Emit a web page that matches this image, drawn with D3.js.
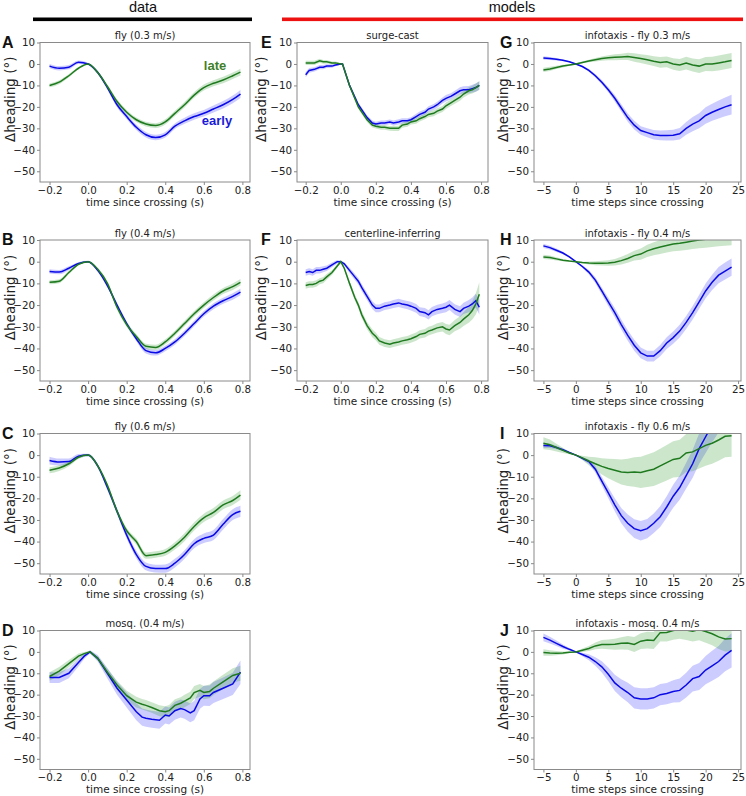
<!DOCTYPE html>
<html><head><meta charset="utf-8">
<script src="https://cdn.jsdelivr.net/npm/d3@7"></script>
<style>body{margin:0;background:#fff}svg{display:block}</style>
</head><body>
<svg id="c" width="746" height="796"></svg>
<script>
// ---------------- DATA ----------------
const yTicks = [-50, -40, -30, -20, -10, 0, 10];
const timeTicks = [-0.2, 0.0, 0.2, 0.4, 0.6, 0.8];
const stepTicks = [-5, 0, 5, 10, 15, 20, 25];

// time since crossing (s) for smooth fly panels
const timeS = [-0.2,-0.15,-0.1,-0.05,0,0.05,0.1,0.15,0.2,0.25,0.3,0.35,0.4,0.45,0.5,0.55,0.6,0.65,0.7,0.75,0.79];

const A_early = [-1,-2,-1.5,0.8,0,-4,-11,-19,-24.5,-29.5,-33,-34.3,-33,-29,-26.5,-24.5,-23,-21,-19,-16.5,-14];
const A_earlyErr = [1,1,1,0.8,0.5,0.8,1,1.2,1.2,1.3,1.3,1.3,1.3,1.3,1.4,1.5,1.5,1.6,1.7,1.8,1.9];
const A_late = [-10,-8.5,-5.5,-2,0,-4,-10.5,-17.5,-22.5,-26,-28,-28.7,-27,-23,-19,-14.5,-11,-9,-7.5,-5.5,-3.8];
const A_lateErr = [0.9,0.9,0.8,0.6,0.4,0.7,0.9,1,1.1,1.1,1.1,1.1,1.2,1.2,1.3,1.3,1.4,1.4,1.5,1.5,1.6];

const B_early = [-4.5,-4.8,-3,-0.8,0,-4,-11,-20,-28.5,-35.5,-41,-42,-40,-37,-33,-28.5,-24,-20.5,-18,-16,-14];
const B_earlyErr = [1,1,0.9,0.6,0.4,0.7,0.9,1,1.1,1.2,1.3,1.3,1.3,1.3,1.3,1.3,1.3,1.4,1.4,1.5,1.5];
const B_late = [-9.5,-9,-5,-1.2,0,-3.5,-10,-21,-29,-34.5,-39,-39.5,-37,-33,-28.5,-24,-20,-16.5,-13.5,-11.5,-9.5];
const B_lateErr = [0.9,0.9,0.8,0.6,0.4,0.7,0.9,1,1.1,1.2,1.2,1.2,1.2,1.2,1.3,1.3,1.3,1.4,1.4,1.5,1.5];

const C_early = [-2.5,-3.2,-3,-0.5,0,-5,-15,-26,-37,-46,-51.5,-52.5,-52.5,-50,-46,-41,-38.5,-37,-32,-27.5,-26];
const C_earlyErr = [1.8,1.6,1.4,1,0.6,1,1.3,1.5,1.6,1.7,1.8,1.8,1.9,2,2,2.1,2.2,2.3,2.4,2.5,2.6];
const C_late = [-7,-6,-4,-1,0,-5,-14,-26,-35,-40,-46.5,-46,-45,-42,-38,-33,-29,-26.5,-23,-21,-18.5];
const C_lateErr = [1.4,1.3,1.1,0.8,0.5,0.8,1,1.2,1.3,1.4,1.5,1.5,1.6,1.7,1.8,1.9,1.9,2,2,2.1,2.2];

// mosquito
const D_t = [-0.2,-0.15,-0.1,-0.05,-0.02,0.01,0.05,0.1,0.15,0.2,0.25,0.28,0.3,0.33,0.37,0.4,0.42,0.45,0.48,0.5,0.53,0.55,0.58,0.6,0.63,0.65,0.7,0.75,0.79];
const D_early = [-12,-12,-10,-5,-2,0,-3,-10,-17,-22.5,-28,-30.5,-31,-31.5,-32,-29.5,-30,-27.5,-26.5,-27,-28.5,-27.5,-22,-20.5,-20.5,-19,-17,-15,-9.5];
const D_earlyErr = [2.5,2.5,2.3,1.8,1.2,0.8,1.5,2.5,3,3.5,4,4,4,4,4,4,4,4.2,4.2,4.3,4.4,4.5,4.6,4.7,4.8,4.9,5,5.2,5.5];
const D_late = [-11.5,-9,-5.5,-2,-0.8,0,-3,-9.5,-15.5,-20.5,-23.5,-24.5,-25,-26,-27.5,-28,-27.5,-25,-24,-23,-21.5,-19,-18,-19,-18.5,-17,-14,-11,-10];
const D_lateErr = [2,1.9,1.7,1.2,0.8,0.5,1,1.6,2,2.3,2.5,2.5,2.5,2.5,2.6,2.6,2.7,2.8,2.8,2.9,2.9,3,3,3.1,3.2,3.2,3.3,3.4,3.5];

// surge-cast
const E_t = [-0.2,-0.18,-0.15,-0.12,-0.1,-0.08,-0.05,-0.03,0,0.01,0.05,0.1,0.15,0.18,0.2,0.23,0.25,0.28,0.3,0.33,0.35,0.38,0.4,0.43,0.45,0.48,0.5,0.53,0.55,0.58,0.6,0.63,0.65,0.68,0.7,0.73,0.75,0.77,0.79];
const E_early = [-5,-3,-2.5,-1.5,-1.5,-1,-1,-0.5,0,0,-10,-19,-25,-27.5,-28,-27.5,-27.5,-27,-27.5,-27,-26.5,-26.5,-26,-24.5,-23.5,-22.5,-21,-20,-19,-17,-16,-15,-14,-12.5,-12,-12,-11.5,-11,-10];
const E_earlyErr = [1.2,1.1,1,1,1,0.9,0.8,0.6,0.4,0.4,0.8,1,1.1,1.1,1.1,1.1,1.1,1.1,1.2,1.2,1.2,1.2,1.2,1.3,1.3,1.3,1.3,1.4,1.4,1.4,1.5,1.5,1.5,1.6,1.6,1.7,1.8,1.9,2];
const E_late = [0.5,0.5,0.5,1.5,1,1,0.5,0.5,0,0,-10,-20,-26,-28.5,-29,-29.5,-29.5,-30,-30,-30,-28.5,-28,-27,-26.5,-25.5,-24.5,-23.5,-23,-22,-21,-19.5,-18,-17,-15.5,-14,-12.5,-12,-11,-10];
const E_lateErr = [1,1,1,0.9,0.9,0.8,0.7,0.6,0.4,0.4,0.8,1,1.1,1.1,1.1,1.1,1.1,1.1,1.2,1.2,1.2,1.2,1.2,1.3,1.3,1.3,1.3,1.4,1.4,1.4,1.5,1.5,1.5,1.6,1.6,1.7,1.8,1.9,2];

// centerline-inferring
const F_t = [-0.2,-0.18,-0.16,-0.14,-0.12,-0.1,-0.08,-0.05,-0.02,0,0.02,0.05,0.08,0.1,0.12,0.15,0.18,0.2,0.22,0.25,0.28,0.3,0.33,0.35,0.38,0.4,0.43,0.45,0.48,0.5,0.52,0.55,0.58,0.6,0.62,0.65,0.68,0.7,0.73,0.75,0.77,0.79];
const F_early = [-5,-4.5,-5,-4,-4,-3.5,-3,-1.5,0,0,-1,-4,-7,-9,-12,-16,-20,-21.5,-21.5,-20.5,-20,-19.5,-19,-19.5,-20,-20.5,-21.5,-23,-23.5,-24.5,-23,-22,-21.5,-21,-20,-22,-23,-21.5,-20.5,-19.5,-18,-21];
const F_earlyErr = [1.5,1.5,1.5,1.5,1.5,1.4,1.3,1.1,0.8,0.5,0.8,1.2,1.4,1.5,1.6,1.7,1.8,1.8,1.8,1.8,1.8,1.8,1.9,1.9,1.9,2,2,2,2.1,2.1,2.1,2.2,2.2,2.3,2.3,2.4,2.5,2.6,2.8,3,3.2,3.4];
const F_late = [-11,-10.5,-10.5,-10,-9,-8.5,-7,-5,-2,0,-3,-10,-16.5,-20,-24.5,-29.5,-33,-34.5,-36.5,-37.5,-38,-37.5,-37,-36.5,-36,-35.5,-34.5,-33.5,-33,-32,-31.5,-30.5,-30,-31,-31.5,-29.5,-28,-26.5,-24.5,-22.5,-19.5,-15];
const F_lateErr = [1.5,1.5,1.5,1.5,1.4,1.4,1.3,1.1,0.8,0.5,0.8,1.2,1.4,1.5,1.6,1.7,1.8,1.8,1.8,1.8,1.8,1.8,1.8,1.8,1.8,1.9,1.9,1.9,2,2,2,2.1,2.2,2.3,2.4,2.6,2.9,3.2,3.7,4.2,4.8,5.5];

// infotaxis: time steps since crossing
const steps = [-5,-4,-3,-2,-1,0,1,2,3,4,5,6,7,8,9,10,11,12,13,14,15,16,17,18,19,20,21,22,23,24];

const G_early = [2.8,2.5,2.2,1.7,1,0,-1.2,-3,-5.5,-8.5,-12,-16,-20.5,-25,-28.5,-31,-32,-33,-33.3,-33.3,-33.2,-32.5,-30,-28,-26.5,-24,-22.5,-21.2,-20,-19];
const G_earlyErr = [0.8,0.7,0.6,0.4,0.3,0.2,0.4,0.6,0.8,1,1.2,1.5,1.7,1.9,2,2,2.1,2.2,2.3,2.4,2.5,2.7,3,3.3,3.5,3.8,4,4.2,4.4,4.6];
const G_late = [-2.8,-2.3,-1.6,-1,-0.5,0,0.7,1.4,2,2.5,2.9,3.1,3.3,3.5,3,2.5,2,1.3,0.7,1,0,-0.5,0.4,-0.5,-1,0,0,0.5,1,1.6];
const G_lateErr = [1,1,0.8,0.6,0.4,0.2,0.4,0.6,0.8,1,1.2,1.4,1.5,1.7,2,2,2.2,2.3,2.5,2.5,2.7,2.8,3,3,3.2,3.3,3.4,3.5,3.5,3.5];

const H_early = [7.3,6.5,5.3,4,2.2,0,-2.2,-4.8,-8.5,-13.5,-18.5,-23.5,-29,-34,-38.5,-42,-43.5,-43.5,-41,-37.5,-35,-32,-28,-23.5,-18.5,-13.5,-9.5,-6.2,-4.3,-2.5];
const H_earlyErr = [1,0.9,0.8,0.6,0.4,0.2,0.6,1,1.3,1.6,1.9,2.1,2.3,2.4,2.5,2.5,2.5,2.5,2.6,2.7,2.8,2.9,3,3.1,3.2,3.4,3.5,3.7,3.9,4];
const H_late = [2.2,1.9,1.3,0.7,0.3,0,-0.4,-0.6,-0.7,-0.7,-0.6,-0.3,0.5,1.5,2.8,3.5,5,6,6.8,7.5,8.2,8.5,9,9.5,10,10.3,10.8,11.3,11.8,12.2];
const H_lateErr = [1,0.9,0.7,0.5,0.3,0.1,0.4,0.7,0.9,1.1,1.3,1.5,1.8,2,2.3,2.6,2.8,3,3.2,3.3,3.4,3.5,3.6,3.7,3.8,3.9,4,4.2,4.4,4.6];

const I_early = [4.5,4.3,3.5,2.5,1.2,0,-1.5,-3,-6.5,-12,-17.5,-23,-28,-31.5,-34,-35,-34,-31.5,-28.5,-24,-19,-15,-9.5,-4,3,8.5,14,19,23,27];
const I_earlyErr = [1.2,1,0.8,0.6,0.4,0.2,0.6,1,1.5,2,2.5,3,3.5,4,4.3,4.5,4.5,4.5,4.8,5,5.3,5.6,6,6.5,7,7.5,8,8.5,9,9.5];
const I_late = [5.5,4.8,3.5,2.2,1,0,-1.3,-2.7,-4,-5.2,-6.2,-7,-7.8,-8,-7.8,-8,-7.2,-6.5,-5,-3.5,-2,-1.5,1,1.5,3,4.5,5.5,7,8.7,9];
const I_lateErr = [2.8,2.4,1.8,1.2,0.6,0.2,1,2,3,3.8,4.5,5.2,5.8,6.3,6.8,7.2,7.5,7.8,8,8.2,8.4,8.6,8.8,9,9.2,9.4,9.5,9.6,9.7,9.8];

const J_early = [6.8,5.5,4,2.5,1.2,0,-1.2,-2.5,-4.5,-7,-10.5,-14.5,-17,-19,-21.5,-22,-22,-21.5,-20,-19.5,-18.5,-18,-15.5,-12.5,-11.5,-8.5,-6.5,-4.5,-1.5,0.7];
const J_earlyErr = [1.8,1.6,1.3,1,0.6,0.2,0.8,1.4,2,2.6,3.2,3.8,4.2,4.6,5,5,5,5,5,5,5.2,5.5,5.8,6,6.3,6.6,7,7.3,7.6,8];
const J_late = [-0.3,-0.5,-0.6,-0.5,-0.2,0,0.8,1.6,2.8,3.5,3.5,3.6,4,4.2,3.5,5,5.5,5.3,9,9.1,10,10.5,10.2,9.6,10.4,9.5,8.5,7,6,6.2];
const J_lateErr = [1.5,1.3,1,0.7,0.4,0.2,0.8,1.2,1.6,2,2.3,2.6,2.9,3.2,3.5,3.7,3.9,4,4.1,4.2,4.3,4.4,4.6,4.8,5,5.2,5.4,5.6,5.8,6];

const timeLabel = "time since crossing (s)";
const stepLabel = "time steps since crossing";

// ---------------- PANELS ----------------
const panels = [
  {id:"A", title:"fly (0.3 m/s)", col:0, row:0, x:timeS, e:A_early, eErr:A_earlyErr, l:A_late, lErr:A_lateErr, kind:"time", smooth:true},
  {id:"B", title:"fly (0.4 m/s)", col:0, row:1, x:timeS, e:B_early, eErr:B_earlyErr, l:B_late, lErr:B_lateErr, kind:"time", smooth:true},
  {id:"C", title:"fly (0.6 m/s)", col:0, row:2, x:timeS, e:C_early, eErr:C_earlyErr, l:C_late, lErr:C_lateErr, kind:"time", smooth:true},
  {id:"D", title:"mosq. (0.4 m/s)", col:0, row:3, x:D_t, e:D_early, eErr:D_earlyErr, l:D_late, lErr:D_lateErr, kind:"time"},
  {id:"E", title:"surge-cast", col:1, row:0, x:E_t, e:E_early, eErr:E_earlyErr, l:E_late, lErr:E_lateErr, kind:"time"},
  {id:"F", title:"centerline-inferring", col:1, row:1, x:F_t, e:F_early, eErr:F_earlyErr, l:F_late, lErr:F_lateErr, kind:"time"},
  {id:"G", title:"infotaxis - fly 0.3 m/s", col:2, row:0, x:steps, e:G_early, eErr:G_earlyErr, l:G_late, lErr:G_lateErr, kind:"steps"},
  {id:"H", title:"infotaxis - fly 0.4 m/s", col:2, row:1, x:steps, e:H_early, eErr:H_earlyErr, l:H_late, lErr:H_lateErr, kind:"steps"},
  {id:"I", title:"infotaxis - fly 0.6 m/s", col:2, row:2, x:steps, e:I_early, eErr:I_earlyErr, l:I_late, lErr:I_lateErr, kind:"steps"},
  {id:"J", title:"infotaxis - mosq. 0.4 m/s", col:2, row:3, x:steps, e:J_early, eErr:J_earlyErr, l:J_late, lErr:J_lateErr, kind:"steps"}
];

// ---------------- LAYOUT ----------------
const colL = [40, 297, 534], colR = [250, 488, 741];
const rowT = [42.5, 240, 433.5, 630.5], rowB = [182, 381, 574, 769.5];
const letterX = [2, 261, 500];
const ylabX = [15, 266, 507.5];
const EARLY = "#0a0ae6", LATE = "#1f7a1f";
const EARLY_FILL = "rgba(40,40,255,0.24)", LATE_FILL = "rgba(40,150,40,0.24)";
const FONT = "'DejaVu Sans', sans-serif";

const svg = d3.select("#c");

// header
svg.append("text").attr("x", 143).attr("y", 12).attr("text-anchor", "middle")
  .attr("font-family", "'Liberation Sans', Arial, sans-serif").attr("font-size", 14.5).attr("fill", "#111").text("data");
svg.append("text").attr("x", 512).attr("y", 12).attr("text-anchor", "middle")
  .attr("font-family", "'Liberation Sans', Arial, sans-serif").attr("font-size", 14.5).attr("fill", "#111").text("models");
svg.append("rect").attr("x", 33).attr("y", 17.5).attr("width", 219).attr("height", 3.6).attr("fill", "#000");
svg.append("rect").attr("x", 282).attr("y", 17.5).attr("width", 461).attr("height", 3.6).attr("fill", "#ee1111");

panels.forEach((p, i) => {
  const L = colL[p.col], R = colR[p.col], T = rowT[p.row], B = rowB[p.row];
  const xDom = p.kind === "time" ? [-0.2495, 0.8395] : [-6.45, 25.45];
  const x = d3.scaleLinear().domain(xDom).range([L, R]);
  const y = d3.scaleLinear().domain([-55, 10]).range([B, T]);
  const g = svg.append("g");

  const cid = "clip" + p.id;
  svg.append("clipPath").attr("id", cid).append("rect")
    .attr("x", L).attr("y", T).attr("width", R - L).attr("height", B - T);

  const curve = p.smooth ? d3.curveMonotoneX : d3.curveLinear;
  const plot = g.append("g").attr("clip-path", `url(#${cid})`);

  const band = (vals, err) => d3.area()
    .x((d, j) => x(p.x[j]))
    .y0((d, j) => y(vals[j] - err[j]))
    .y1((d, j) => y(vals[j] + err[j]))
    .curve(curve)(vals);
  const line = (vals) => d3.line().x((d, j) => x(p.x[j])).y(d => y(d)).curve(curve)(vals);

  plot.append("path").attr("d", band(p.e, p.eErr)).attr("fill", EARLY_FILL);
  plot.append("path").attr("d", band(p.l, p.lErr)).attr("fill", LATE_FILL);
  plot.append("path").attr("d", line(p.e)).attr("fill", "none").attr("stroke", EARLY).attr("stroke-width", 1.5);
  plot.append("path").attr("d", line(p.l)).attr("fill", "none").attr("stroke", LATE).attr("stroke-width", 1.5);

  // axes
  const ya = g.append("g").attr("transform", `translate(${L},0)`)
    .call(d3.axisLeft(y).tickValues(yTicks).tickFormat(d3.format("d")).tickSizeInner(3).tickSizeOuter(0).tickPadding(2));
  const xTv = p.kind === "time" ? timeTicks : stepTicks;
  const xf = p.kind === "time" ? d3.format(".1f") : d3.format("d");
  const xa = g.append("g").attr("transform", `translate(0,${B})`)
    .call(d3.axisBottom(x).tickValues(xTv).tickFormat(xf).tickSizeInner(3).tickSizeOuter(0).tickPadding(1.5));
  [ya, xa].forEach(a => {
    a.select(".domain").remove();
    a.selectAll("line").attr("stroke", "#888");
    a.selectAll("text").attr("font-family", FONT).attr("font-size", 10.3).attr("fill", "#222");
  });

  g.append("rect").attr("x", L).attr("y", T).attr("width", R - L).attr("height", B - T)
    .attr("fill", "none").attr("stroke", "#8a8a8a").attr("stroke-width", 1);

  // title
  g.append("text").attr("x", (L + R) / 2).attr("y", T - 3.5).attr("text-anchor", "middle")
    .attr("font-family", FONT).attr("font-size", 10).attr("fill", "#222").text(p.title);
  // x label
  g.append("text").attr("x", (L + R) / 2).attr("y", B + 23.5).attr("text-anchor", "middle")
    .attr("font-family", FONT).attr("font-size", 10.5).attr("fill", "#222")
    .text(p.kind === "time" ? timeLabel : stepLabel);
  // y label
  const yly = (T + B) / 2 - 13;
  g.append("text").attr("transform", `translate(${ylabX[p.col]},${yly}) rotate(-90)`).attr("text-anchor", "middle")
    .attr("font-family", FONT).attr("font-size", 13.5).attr("fill", "#222").text("Δheading (°)");
  // panel letter
  g.append("text").attr("x", letterX[p.col]).attr("y", T + 5)
    .attr("font-family", "'Liberation Sans', Arial, sans-serif").attr("font-weight", "bold")
    .attr("font-size", 16).attr("fill", "#111").text(p.id);

  if (p.id === "A") {
    g.append("text").attr("x", 215).attr("y", 70).attr("text-anchor", "middle")
      .attr("font-family", "'Liberation Sans', Arial, sans-serif").attr("font-weight", "bold")
      .attr("font-size", 13).attr("fill", "#3f7f2a").text("late");
    g.append("text").attr("x", 217).attr("y", 125).attr("text-anchor", "middle")
      .attr("font-family", "'Liberation Sans', Arial, sans-serif").attr("font-weight", "bold")
      .attr("font-size", 13).attr("fill", "#1a1ad8").text("early");
  }
});
</script>
</body></html>
